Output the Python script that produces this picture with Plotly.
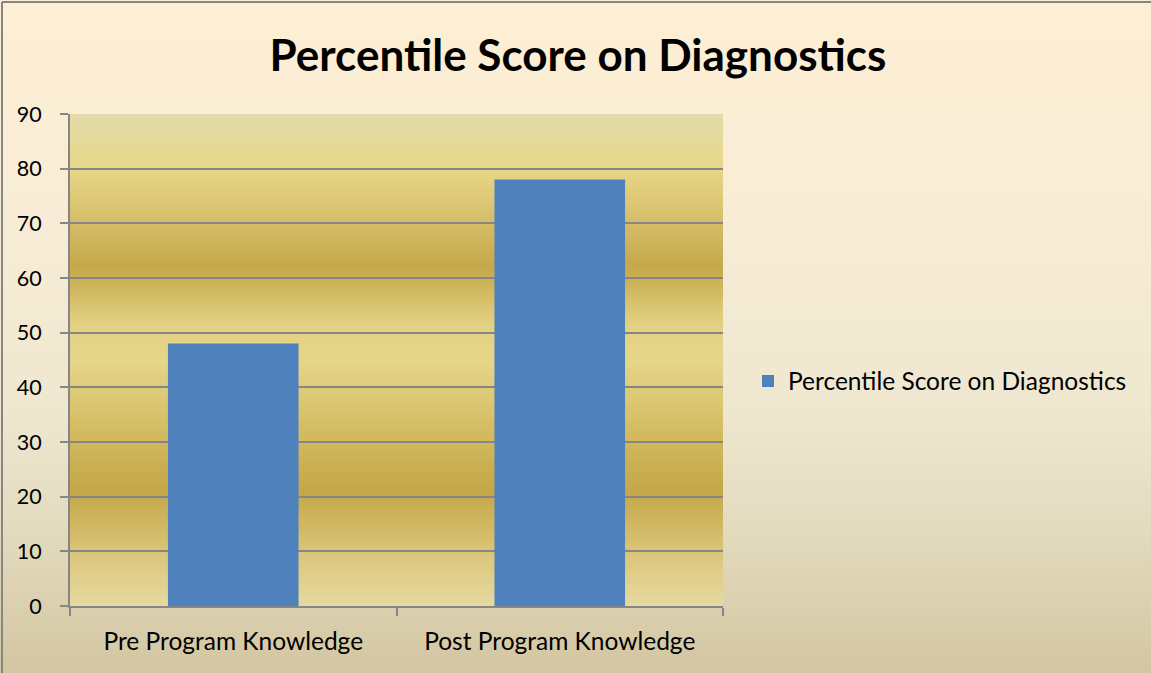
import base64
import struct
import zlib

import plotly.graph_objects as go

categories = ["Pre Program Knowledge", "Post Program Knowledge"]
values = [48, 78]
series_name = "Percentile Score on Diagnostics"
title_text = "Percentile Score on Diagnostics"

W, H = 1151, 673
L, R, T, B = 70, 723, 114, 606
PW, PH = R - L, B - T


def hex2rgb(h):
    h = h.lstrip("#")
    return tuple(int(h[i:i + 2], 16) for i in (0, 2, 4))


def interp(stops, t):
    for (t0, c0), (t1, c1) in zip(stops, stops[1:]):
        if t0 <= t <= t1:
            f = 0 if t1 == t0 else (t - t0) / (t1 - t0)
            a, b = hex2rgb(c0), hex2rgb(c1)
            return tuple(round(a[i] + (b[i] - a[i]) * f) for i in range(3))
    return hex2rgb(stops[-1][1])


def vgradient_png(stops, n):
    """Vertical gradient PNG, 1 px wide, n px tall; stops in [0,1] from top."""
    raw = b""
    for i in range(n):
        r, g, b = interp(stops, (i + 0.5) / n)
        raw += b"\x00" + bytes([r, g, b])

    def chunk(tag, data):
        c = struct.pack(">I", len(data)) + tag + data
        return c + struct.pack(">I", zlib.crc32(tag + data) & 0xFFFFFFFF)

    png = b"\x89PNG\r\n\x1a\n"
    png += chunk(b"IHDR", struct.pack(">IIBBBBB", 1, n, 8, 2, 0, 0, 0))
    png += chunk(b"IDAT", zlib.compress(raw))
    png += chunk(b"IEND", b"")
    return "data:image/png;base64," + base64.b64encode(png).decode()


# figure background (fraction from top)
bg_stops = [(0.0, "#FDEFD3"), (0.35, "#F7ECD6"), (0.6, "#EFE7D0"), (0.78, "#E4DCC0"), (1.0, "#D3C6A1")]
# plot area bands (fraction from top: 90 -> 0)
pa_vals = [(90, "#E3DBAA"), (80, "#E8D888"), (72, "#D8C270"), (62, "#C5A84A"), (52, "#E2D082"),
           (45, "#E6D68A"), (32, "#D4BC62"), (21, "#C4A748"), (10, "#DAC578"), (0, "#E6DAA2")]
pa_stops = [((90 - v) / 90, c) for v, c in pa_vals]

images = [
    dict(source=vgradient_png(bg_stops, 256), xref="paper", yref="paper",
         x=-L / PW, y=1 + T / PH, sizex=W / PW, sizey=H / PH,
         xanchor="left", yanchor="top", sizing="stretch", layer="below"),
    dict(source=vgradient_png(pa_stops, 256), xref="paper", yref="paper",
         x=0, y=1, sizex=1, sizey=1,
         xanchor="left", yanchor="top", sizing="stretch", layer="below"),
]

shapes = [
    # top and left border lines
    dict(type="line", xref="paper", yref="paper", layer="above",
         x0=(2 - L) / PW, x1=(W - L) / PW, y0=(B - 2) / PH, y1=(B - 2) / PH,
         line=dict(color="#868686", width=2)),
    dict(type="line", xref="paper", yref="paper", layer="above",
         x0=(2 - L) / PW, x1=(2 - L) / PW, y0=(B - 2) / PH, y1=(B - H) / PH,
         line=dict(color="#868686", width=2)),
]

fig = go.Figure()
fig.add_trace(go.Bar(x=categories, y=values, name=series_name,
                     marker=dict(color="#4F81BD", line=dict(width=0)),
                     showlegend=True))

font_family = "Lato, 'Open Sans', sans-serif"
fig.update_layout(
    width=W, height=H,
    margin=dict(l=L, r=W - R, t=T, b=H - B, autoexpand=False),
    paper_bgcolor="#FDEFD3",
    plot_bgcolor="rgba(0,0,0,0)",
    images=images,
    shapes=shapes,
    bargap=0.6,
    font=dict(family=font_family, color="#000000", size=22),
    title=dict(text="<b>" + title_text + "</b>", x=578 / W, xanchor="center",
               y=1 - 56 / H, yanchor="middle",
               font=dict(family=font_family, size=44, color="#000000")),
    showlegend=True,
    legend=dict(x=(748 - L) / PW, y=(B - 381) / PH, xanchor="left", yanchor="middle",
                bgcolor="rgba(0,0,0,0)", font=dict(size=24.5, family=font_family),
                itemwidth=30),
    xaxis=dict(type="category", tickson="boundaries", ticks="outside", ticklen=8,
               tickcolor="#868686", tickwidth=2, showline=True, linecolor="#868686", linewidth=2,
               showgrid=False, tickfont=dict(size=24.5), ticklabelstandoff=13),
    yaxis=dict(range=[0, 90], dtick=10, ticks="outside", ticklen=8, tickcolor="#868686",
               tickwidth=2, showline=True, linecolor="#868686", linewidth=2,
               showgrid=True, gridcolor="#868686", gridwidth=2, zeroline=False,
               tickfont=dict(size=21.5), ticklabelstandoff=14),
)

fig.write_html("out.html", config={"displayModeBar": False},
               post_script="document.body.style.margin='0';document.body.style.overflow='hidden';")
